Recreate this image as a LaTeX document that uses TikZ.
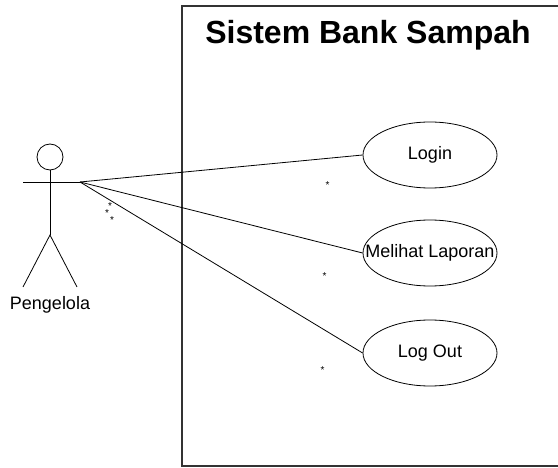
\documentclass[tikz,border=0pt]{standalone}
\usepackage{fontspec}
\setmainfont{Liberation Sans}
\usetikzlibrary{positioning,shapes}

\begin{document}
\begin{tikzpicture}[
  x=1pt,y=-1pt,
  usecase/.style={draw,ellipse,minimum width=134pt,minimum height=66pt,inner sep=0pt,font=\fontsize{18}{21}\selectfont},
  mult/.style={inner sep=0pt,font=\fontsize{10}{10}\selectfont},
  line width=0.8pt
  ]
  \useasboundingbox (0,0) rectangle (558,468);
  % system boundary
  \draw[line width=1.3pt,black!80] (560,6) -- (182,6) -- (182,466) -- (560,466);
  \node[font=\bfseries\fontsize{32}{36}\selectfont] (title) at (368,35) {Sistem Bank Sampah};

  % actor
  \draw (50,157) circle (13);
  \draw (50,170) -- (50,235);
  \draw (23,182) -- (80,182);
  \draw (23,287) -- (50,235) -- (77,287);
  \coordinate (pengelola) at (80,182);
  \node[font=\fontsize{18}{21}\selectfont] (label) at (50,305) {Pengelola};

  \node[usecase] (login) at (430,155) {Login};
  \node[usecase] (laporan) at (430,253) {\makebox[0pt]{Melihat Laporan}};
  \node[usecase] (logout) at (430,353) {Log Out};

  \draw (pengelola) -- (login.west);
  \draw (pengelola) -- (laporan.west);
  \draw (pengelola) -- (logout.west);

  \node[mult] (m1) at ([shift={(30,24)}]pengelola) {*};
  \node[mult] (m2) at ([shift={(27,31)}]pengelola) {*};
  \node[mult] (m3) at ([shift={(32,38)}]pengelola) {*};
  \node[mult] (m4) at ([shift={(-35,30)}]login.west) {*};
  \node[mult] (m5) at ([shift={(-38,23)}]laporan.west) {*};
  \node[mult] (m6) at ([shift={(-40,17)}]logout.west) {*};
\end{tikzpicture}
\end{document}
